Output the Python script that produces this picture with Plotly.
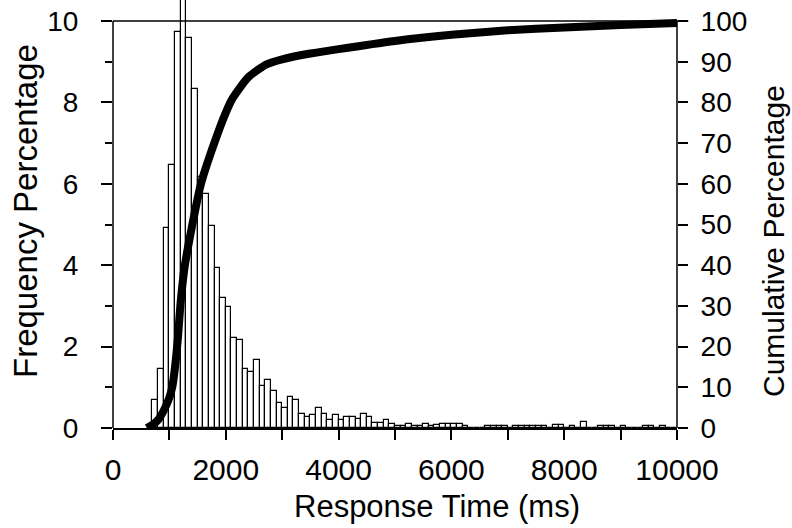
import plotly.graph_objects as go

# ---- data ----
bin_start = 700      # ms, left edge of first histogram bin
bin_width = 100      # ms
freq_pct = [
    0.70, 1.46, 4.91, 6.47, 9.74, 10.6, 9.59, 8.33, 6.16, 5.75,   # 700-1600
    4.97, 3.94, 3.19, 2.98, 2.20, 2.16, 1.46, 1.38, 1.67, 1.03,   # 1700-2600
    1.19, 0.91, 0.62, 0.48, 0.75, 0.68, 0.34, 0.27, 0.33, 0.48,   # 2700-3600
    0.34, 0.19, 0.32, 0.19, 0.27, 0.27, 0.21, 0.34, 0.27, 0.12,   # 3700-4600
    0.12, 0.20, 0.10, 0.04, 0.05, 0.11, 0.06, 0.06, 0.11, 0.06,   # 4700-5600
    0.07, 0.11, 0.11, 0.11, 0.11, 0.04, 0.0, 0.0, 0.0, 0.05,      # 5700-6600
    0.05, 0.05, 0.05, 0.0, 0.05, 0.05, 0.05, 0.05, 0.05, 0.05,    # 6700-7600
    0.0, 0.07, 0.07, 0.0, 0.05, 0.0, 0.15, 0.0, 0.0, 0.06,        # 7700-8600
    0.06, 0.06, 0.0, 0.05, 0.0, 0.0, 0.0, 0.05, 0.05, 0.0,        # 8700-9600
    0.06, 0.0, 0.0,                                               # 9700-9900
]
cum_time = [600, 700, 800, 900, 1000, 1050, 1100, 1150, 1200, 1270, 1400,
            1560, 1770, 2000, 2120, 2400, 2700, 2850, 3000, 3500, 4000,
            5000, 6000, 7000, 8000, 9000, 10000]
cum_pct = [0, 0.8, 2.0, 4.3, 7.5, 10, 15, 22, 31, 39.6, 49.5,
           60, 69, 77.5, 81, 86.2, 89.2, 90.0, 90.6, 92.0, 93.1,
           95.1, 96.6, 97.7, 98.4, 99.0, 99.5]
x_ticks = [0, 2000, 4000, 6000, 8000, 10000]
x_tick_text = ["0", "2000", "4000", "6000", "8000", "10000"]
left_ticks = [0, 2, 4, 6, 8, 10]
right_ticks = [0, 10, 20, 30, 40, 50, 60, 70, 80, 90, 100]

bin_centers = [bin_start + bin_width * (i + 0.5) for i in range(len(freq_pct))]

FONT = "Liberation Sans, Arial, Helvetica, sans-serif"
PLOT_TOP_PX, PLOT_BOTTOM_PX = 21, 428   # pixel rows of value 10 and value 0
Y_TOP = 10 * PLOT_BOTTOM_PX / (PLOT_BOTTOM_PX - PLOT_TOP_PX)

fig = go.Figure()
fig.add_trace(go.Bar(
    x=bin_centers, y=freq_pct, width=bin_width,
    marker=dict(color="white", line=dict(color="black", width=1.2)),
    showlegend=False, hoverinfo="skip",
))
fig.add_trace(go.Scatter(
    x=cum_time, y=cum_pct, yaxis="y2", mode="lines",
    line=dict(color="black", width=8, shape="spline", smoothing=0.6),
    showlegend=False,
))

axis_common = dict(showgrid=False, zeroline=False, color="black", automargin=False,
                   tickfont=dict(family=FONT, size=28, color="black"))

fig.update_layout(
    width=792, height=528,
    margin=dict(l=113, r=115, t=0, b=100),
    paper_bgcolor="white", plot_bgcolor="white",
    bargap=0,
    xaxis=dict(range=[0, 10000], tickvals=x_ticks, ticktext=x_tick_text,
               ticks="outside", ticklen=10,
               tickwidth=1.5, showline=True, linecolor="black", linewidth=1.5,
               minor=dict(dtick=1000, ticks="outside", ticklen=10, tickwidth=1.5,
                          tickcolor="black", showgrid=False),
               ticklabelstandoff=4,
               **{**axis_common, "tickfont": dict(family=FONT, size=30, color="black")}),
    yaxis=dict(range=[0, Y_TOP], tickvals=left_ticks, ticks="outside", ticklen=11,
               tickwidth=1.5, showline=False,
               minor=dict(dtick=1, ticks="outside", ticklen=7, tickwidth=1.5,
                          tickcolor="black", showgrid=False),
               ticklabelstandoff=17, **axis_common),
    yaxis2=dict(range=[0, Y_TOP * 10], tickvals=right_ticks, overlaying="y",
                side="right", ticks="outside", ticklen=10, tickwidth=1.5,
                showline=False, ticklabelstandoff=7, **axis_common),
    shapes=[
        dict(type="line", xref="paper", yref="y", x0=0, x1=0, y0=0, y1=10,
             line=dict(color="black", width=1.5)),
        dict(type="line", xref="paper", yref="y", x0=1, x1=1, y0=0, y1=10,
             line=dict(color="black", width=1.5)),
        dict(type="line", xref="paper", yref="y", x0=0, x1=1.02, y0=10, y1=10,
             line=dict(color="black", width=1.5)),
    ],
    annotations=[
        dict(text="Frequency Percentage", xref="paper", yref="paper",
             x=(25 - 113) / 564, y=(428 - 211) / 428, textangle=-90,
             showarrow=False, xanchor="center", yanchor="middle",
             font=dict(family=FONT, size=33, color="black")),
        dict(text="Cumulative Percentage", xref="paper", yref="paper",
             x=(773 - 113) / 564, y=(428 - 241) / 428, textangle=-90,
             showarrow=False, xanchor="center", yanchor="middle",
             font=dict(family=FONT, size=30, color="black")),
        dict(text="Response Time (ms)", xref="paper", yref="paper",
             x=(437 - 113) / 564, y=(428 - 506) / 428,
             showarrow=False, xanchor="center", yanchor="middle",
             font=dict(family=FONT, size=31, color="black")),
    ],
)

fig.write_html("out.html", config={"displayModeBar": False},
               post_script="document.body.style.margin='0';document.body.style.overflow='hidden';")
